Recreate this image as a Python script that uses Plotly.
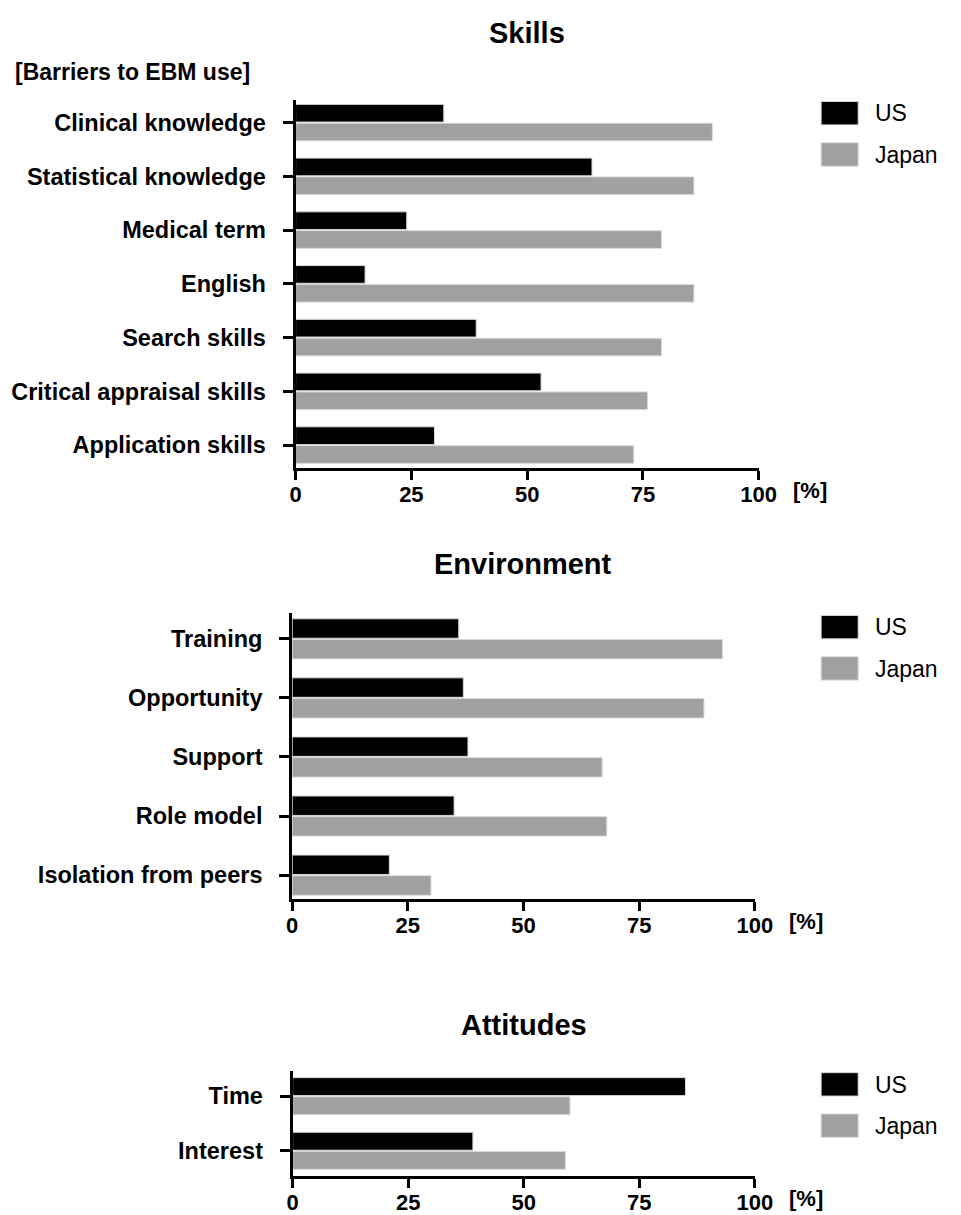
import plotly.graph_objects as go

W, H = 961, 1215

# ---------------- data ----------------
skills_cats = ["Clinical knowledge", "Statistical knowledge", "Medical term", "English",
               "Search skills", "Critical appraisal skills", "Application skills"]
skills_us = [32, 64, 24, 15, 39, 53, 30]
skills_jp = [90, 86, 79, 86, 79, 76, 73]

env_cats = ["Training", "Opportunity", "Support", "Role model", "Isolation from peers"]
env_us = [36, 37, 38, 35, 21]
env_jp = [93, 89, 67, 68, 30]

att_cats = ["Time", "Interest"]
att_us = [85, 39]
att_jp = [60, 59]

x_ticks = [0, 25, 50, 75, 100]
series_names = ["US", "Japan"]
series_colors = ["#000000", "#a0a0a0"]

panels = [
    dict(title="Skills", cats=skills_cats, us=skills_us, jp=skills_jp,
         px_x=(297, 772), px_y=(100, 470), pad=(0.43, 0.42), title_y=33),
    dict(title="Environment", cats=env_cats, us=env_us, jp=env_jp,
         px_x=(293.5, 768), px_y=(616.5, 903.5), pad=(0.43, 0.405), title_y=567),
    dict(title="Attitudes", cats=att_cats, us=att_us, jp=att_jp,
         px_x=(294, 768), px_y=(1076, 1181.5), pad=(0.467, 0.455), title_y=1030),
]

FONT = "Liberation Sans, Arial, Helvetica, sans-serif"


def fx(p):
    return p / W


def fy(p):
    return 1 - p / H


fig = go.Figure()
annotations = []
shapes = []

for i, pnl in enumerate(panels, start=1):
    xa = "x" if i == 1 else f"x{i}"
    ya = "y" if i == 1 else f"y{i}"
    for name, vals, col in zip(series_names, [pnl["us"], pnl["jp"]], series_colors):
        fig.add_trace(go.Bar(
            x=vals, y=pnl["cats"], orientation="h", name=name,
            marker=dict(color=col, line=dict(color="#d8d8d8", width=1)),
            xaxis=xa, yaxis=ya, showlegend=False,
        ))
    n = len(pnl["cats"])
    xkey = "xaxis" if i == 1 else f"xaxis{i}"
    ykey = "yaxis" if i == 1 else f"yaxis{i}"
    x0, x1 = pnl["px_x"]
    y0, y1 = pnl["px_y"]
    fig.update_layout(**{
        xkey: dict(
            domain=[fx(x0), fx(x1)], range=[0, 100], anchor=ya,
            tickmode="array", tickvals=x_ticks, ticktext=[str(t) for t in x_ticks],
            showgrid=False, zeroline=False, showline=True, linecolor="black", linewidth=3,
            ticks="outside", ticklen=9, tickwidth=3, tickcolor="black",
            tickfont=dict(family=FONT, size=22, color="black", weight="bold"),
            ticklabelstandoff=-4,
            fixedrange=True,
        ),
        ykey: dict(
            domain=[fy(y1), fy(y0)], anchor=xa, type="category",
            categoryorder="array", categoryarray=pnl["cats"],
            range=[n - 1 + pnl["pad"][1], -pnl["pad"][0]],
            showgrid=False, zeroline=False, showline=True, linecolor="black", linewidth=3,
            ticks="outside", ticklen=10, tickwidth=3, tickcolor="black",
            tickfont=dict(family=FONT, size=23.5, color="black", weight="bold"),
            ticklabelstandoff=12,
            fixedrange=True,
        ),
    })
    # panel title
    annotations.append(dict(
        text=f"<b>{pnl['title']}</b>", xref="paper", yref="paper",
        x=fx((x0 + x1) / 2), y=fy(pnl["title_y"]), xanchor="center", yanchor="middle",
        showarrow=False, font=dict(family=FONT, size=29, color="black"),
    ))
    # [%] unit label
    annotations.append(dict(
        text="<b>[%]</b>", xref="paper", yref="paper",
        x=fx(x1 + 33), y=fy(y1 + 23), xanchor="left", yanchor="middle",
        showarrow=False, font=dict(family=FONT, size=22, color="black"),
    ))
    # legend swatches + labels
    for k, (name, col) in enumerate(zip(series_names, series_colors)):
        top = y0 + 2 + 41.5 * k
        shapes.append(dict(
            type="rect", xref="paper", yref="paper",
            x0=fx(836), x1=fx(874), y0=fy(top + 23.5), y1=fy(top),
            fillcolor=col, line=dict(color="#d8d8d8", width=1),
        ))
        annotations.append(dict(
            text=name, xref="paper", yref="paper",
            x=fx(889), y=fy(top + 12), xanchor="left", yanchor="middle",
            showarrow=False, font=dict(family=FONT, size=23, color="black"),
        ))

annotations.append(dict(
    text="<b>[Barriers to EBM use]</b>", xref="paper", yref="paper",
    x=fx(7), y=fy(72), xanchor="left", yanchor="middle",
    showarrow=False, font=dict(family=FONT, size=23, color="black"),
))

fig.update_layout(
    width=W, height=H, autosize=False,
    margin=dict(l=0, r=0, t=0, b=0),
    paper_bgcolor="white", plot_bgcolor="white",
    barmode="group", bargap=0.3, bargroupgap=0.06,
    annotations=annotations, shapes=shapes,
    font=dict(family=FONT, color="black"),
    showlegend=False,
)

fig.write_html(
    "out.html",
    config={"displayModeBar": False},
    post_script="document.body.style.margin='0px';document.body.style.overflow='hidden';",
)
